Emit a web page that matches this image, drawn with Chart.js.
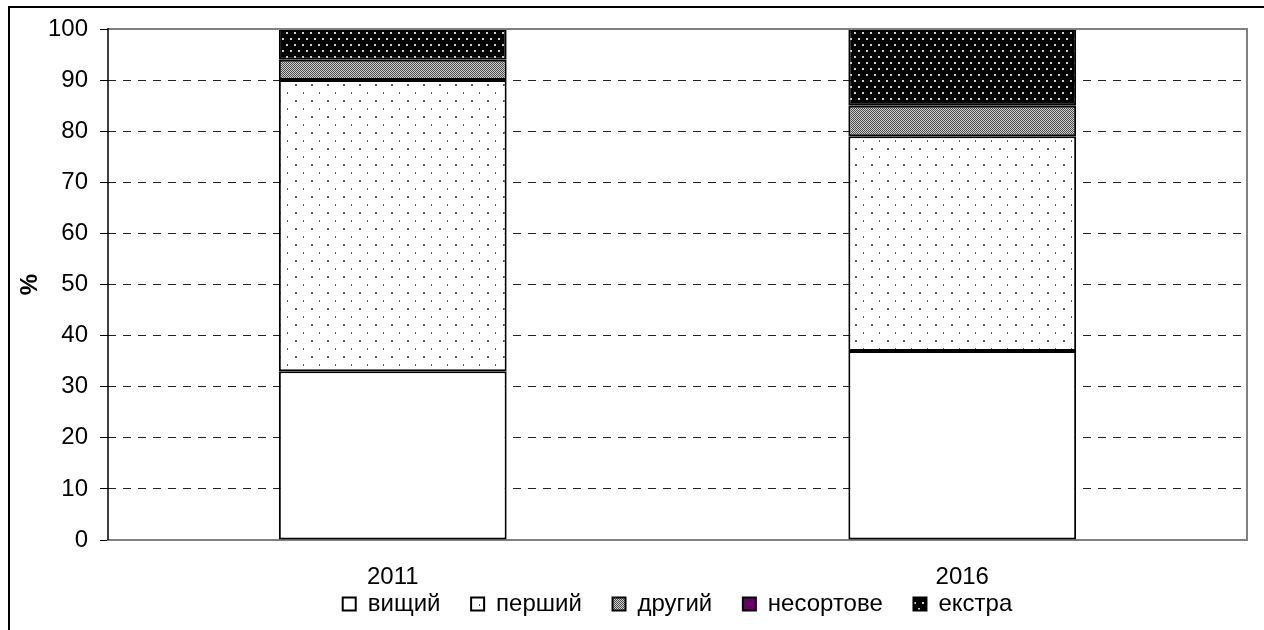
<!DOCTYPE html>
<html>
<head>
<meta charset="utf-8">
<script src="https://cdn.jsdelivr.net/npm/chart.js@4"></script>
<style>
  html, body { margin: 0; padding: 0; background: #fff; }
  #wrap { width: 1264px; height: 630px; }
</style>
</head>
<body>
<div id="wrap"><canvas id="chart" width="1264" height="630"></canvas></div>
<script>
// Дані
const years = ['2011', '2016'];
const seriesNames = ['вищий', 'перший', 'другий', 'несортове', 'екстра'];
const vyshchyi = [33, 37];
const pershyi = [57, 42];
const druhyi = [4, 6];
const nesortove = [0, 0];
const ekstra = [6, 15];
const yTicks = [0, 10, 20, 30, 40, 50, 60, 70, 80, 90, 100];

const FONT = 'Liberation Sans, Arial, sans-serif';
const FS = 24;

// Візерунки заливки
function makePattern(w, h, bg, dots, dotColor, size) {
  const c = document.createElement('canvas');
  c.width = w; c.height = h;
  const g = c.getContext('2d');
  g.fillStyle = bg;
  g.fillRect(0, 0, w, h);
  g.fillStyle = dotColor;
  dots.forEach(([x, y]) => g.fillRect(x, y, size, size));
  return g.createPattern(c, 'repeat');
}
const ctx = document.getElementById('chart').getContext('2d');
const pWhite = '#ffffff';
const pDots = makePattern(16, 16, '#ffffff', [[7, 4], [15, 12]], '#555555', 2);
const pGrey = makePattern(2, 2, '#d0d0d0', [[0, 0], [1, 1]], '#4a4a4a', 1);
const pBlack = makePattern(8, 12, '#000000', [[2, 2], [6, 8]], '#d0d0d0', 2);
const purple = '#660066';

// Рамка навколо і межа області побудови
const framePlugin = {
  id: 'frame',
  beforeDraw(chart) {
    const c = chart.ctx;
    c.save();
    c.fillStyle = '#fff';
    c.fillRect(0, 0, chart.width, chart.height);
    c.strokeStyle = '#000';
    c.lineWidth = 2;
    c.beginPath();
    c.moveTo(9, chart.height + 5);
    c.lineTo(9, 7);
    c.lineTo(chart.width + 5, 7);
    c.stroke();
    c.restore();
  },
  afterDraw(chart) {
    const a = chart.chartArea;
    const c = chart.ctx;
    c.save();
    c.strokeStyle = '#808080';
    c.lineWidth = 2;
    c.beginPath();
    c.moveTo(a.left, a.top);
    c.lineTo(a.right, a.top);
    c.lineTo(a.right, a.bottom);
    c.stroke();
    c.strokeStyle = '#000';
    c.lineWidth = 1.5;
    c.beginPath();
    c.moveTo(a.left, a.top - 1);
    c.lineTo(a.left, a.bottom);
    c.stroke();
    c.restore();
  }
};

const fills = [pWhite, pDots, pGrey, purple, pBlack];
const values = [vyshchyi, pershyi, druhyi, nesortove, ekstra];

new Chart(ctx, {
  type: 'bar',
  data: {
    labels: years,
    datasets: seriesNames.map((name, i) => ({
      label: name,
      data: values[i],
      backgroundColor: fills[i],
      borderColor: '#000',
      borderWidth: 2,
      borderSkipped: false,
      categoryPercentage: 1,
      barPercentage: 0.4,
    })),
  },
  options: {
    responsive: false,
    animation: false,
    layout: { padding: { left: 10, right: 17, top: 29, bottom: 4 } },
    plugins: {
      tooltip: { enabled: false },
      legend: {
        position: 'bottom',
        fullSize: false,
        labels: {
          color: '#000',
          font: { family: FONT, size: FS },
          boxWidth: 13,
          boxHeight: 13,
          padding: 4,
          // відступ між елементами легенди — пробілами після тексту
          generateLabels(chart) {
            const n = chart.data.datasets.length;
            return chart.data.datasets.map((ds, i) => ({
              text: ds.label + (i < n - 1 ? '    ' : ''),
              fillStyle: ds.backgroundColor,
              strokeStyle: '#000',
              lineWidth: 2,
              datasetIndex: i,
              fontColor: '#000',
            }));
          },
        },
      },
    },
    scales: {
      x: {
        stacked: true,
        grid: { display: false, drawTicks: false },
        border: { display: true, color: '#808080', width: 2 },
        ticks: { color: '#000', font: { family: FONT, size: FS }, padding: 23, autoSkip: false, maxRotation: 0 },
        afterFit(s) { s.height = 48; },
      },
      y: {
        stacked: true,
        min: 0,
        max: 100,
        afterBuildTicks(s) { s.ticks = yTicks.map(v => ({ value: v })); },
        grid: {
          color: c => (c.tick && (c.tick.value === 0 || c.tick.value === 100)) ? 'rgba(0,0,0,0)' : '#222',
          lineWidth: 1,
          tickLength: 8,
          tickColor: '#000',
          tickBorderDash: [],
        },
        border: { display: false, dash: [8, 7] },
        ticks: { color: '#000', font: { family: FONT, size: FS }, padding: 12 },
        title: {
          display: true,
          text: '%',
          color: '#000',
          font: { family: FONT, size: FS, weight: 'bold' },
          padding: { top: 6, bottom: 0 },
        },
        afterFit(s) { s.width = 98; },
      },
    },
  },
  plugins: [framePlugin],
});
</script>
</body>
</html>
